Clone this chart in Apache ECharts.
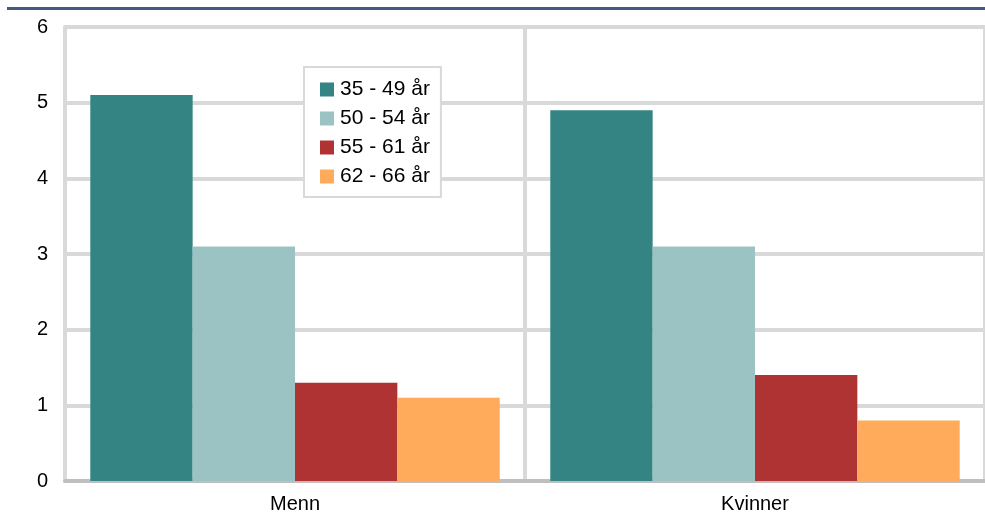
<!DOCTYPE html>
<html>
<head>
<meta charset="utf-8">
<script src="https://cdn.jsdelivr.net/npm/echarts@6/dist/echarts.min.js"></script>
<style>
html,body{margin:0;padding:0;background:#fff;}
#c{width:985px;height:518px;}
</style>
</head>
<body>
<div id="c"></div>
<script>
const categories = ['Menn', 'Kvinner'];
const seriesNames = ['35 - 49 år', '50 - 54 år', '55 - 61 år', '62 - 66 år'];
const age35_49 = [5.1, 4.9];
const age50_54 = [3.1, 3.1];
const age55_61 = [1.3, 1.4];
const age62_66 = [1.1, 0.8];
const yTicks = [0, 1, 2, 3, 4, 5, 6];

const colors = ['#338483', '#9CC3C3', '#B03334', '#FFAB5B'];
const values = [age35_49, age50_54, age55_61, age62_66];

const chart = echarts.init(document.getElementById('c'));
chart.setOption({
  animation: false,
  textStyle: { fontFamily: 'Liberation Sans, Arial, sans-serif' },
  graphic: [{
    type: 'rect', shape: { x: 7, y: 7, width: 978, height: 3 },
    style: { fill: '#445A85' }, silent: true
  }],
  grid: { left: 65, right: 0, top: 27, bottom: 37 },
  legend: {
    orient: 'vertical', left: 304, top: 67,
    backgroundColor: '#fff', borderColor: '#d9d9d9', borderWidth: 2,
    padding: [12, 11, 10, 16],
    itemWidth: 14, itemHeight: 14, itemGap: 8,
    icon: 'rect',
    textStyle: { fontSize: 21, color: '#000', fontFamily: 'Liberation Sans, Arial, sans-serif', padding: [0, 0, 0, 1] },
    data: seriesNames
  },
  xAxis: {
    type: 'category', data: categories,
    axisLine: { show: true, lineStyle: { color: '#bfbfbf', width: 4 } },
    axisTick: { show: false },
    axisLabel: { fontSize: 20, color: '#000', margin: 13 },
    splitLine: { show: true, lineStyle: { color: '#d9d9d9', width: 4 } }
  },
  yAxis: {
    type: 'value', min: 0, max: 6, interval: 1,
    axisLine: { show: true, lineStyle: { color: '#d9d9d9', width: 4 } },
    axisTick: { show: false },
    axisLabel: { fontSize: 20, color: '#000', margin: 17, formatter: v => yTicks.includes(v) ? String(v) : '' },
    splitLine: { show: true, lineStyle: { color: '#d9d9d9', width: 4 } }
  },
  series: seriesNames.map((n, i) => ({
    name: n, type: 'bar', data: values[i],
    barGap: '0%', barCategoryGap: '11%',
    itemStyle: { color: colors[i] }
  }))
});
</script>
</body>
</html>
